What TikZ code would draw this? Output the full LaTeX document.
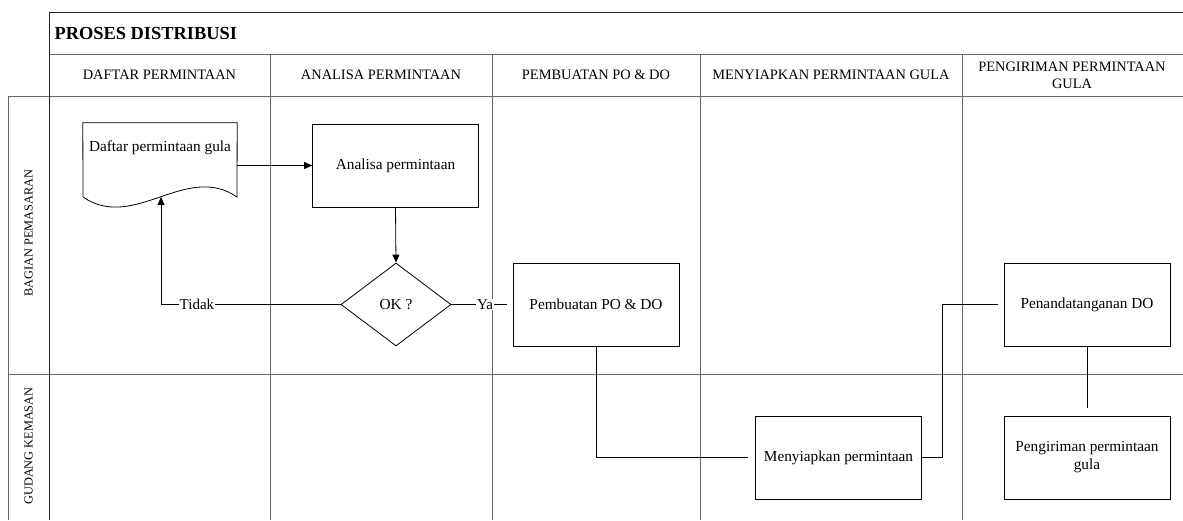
\documentclass[tikz,border=0pt]{standalone}
\usepackage{fontspec}
\setmainfont{Liberation Serif}
\usetikzlibrary{shapes.geometric,arrows.meta}
\tikzset{
  grid/.style={draw=black!60,line width=1pt},
  frame/.style={draw=black!85,line width=1pt},
  procbox/.style={draw=black,line width=0.8pt,minimum width=166pt,minimum height=83pt,inner sep=0pt,font=\fontsize{15.3}{18}\selectfont,align=center},
  decision/.style={diamond,draw=black,line width=0.8pt,minimum width=110pt,minimum height=83pt,inner sep=0pt,font=\fontsize{15.3}{18}\selectfont},
  colhead/.style={font=\fontsize{14.4}{17}\selectfont,align=center},
  lanehead/.style={font=\fontsize{12.3}{14}\selectfont,rotate=90},
  conn/.style={draw=black,line width=0.8pt},
  arr/.style={conn,-{Triangle[length=8pt,width=7pt]}},
  lbl/.style={fill=white,inner sep=1pt,font=\fontsize{15}{18}\selectfont},
}
\begin{document}
\begin{tikzpicture}[x=1pt,y=-1pt]
\useasboundingbox (0,0) rectangle (1183,520);
% grid
\draw[grid] (49,54) -- (1183,54);
\draw[grid] (8,96) -- (1183,96);
\draw[grid] (8,374) -- (1183,374);
\draw[grid] (8,96) -- (8,520);
\foreach \x in {270,492,700,962} \draw[grid] (\x,54) -- (\x,520);
\draw[frame] (49,520) -- (49,12) -- (1183,12);
% titles
\node[anchor=west,font=\bfseries\fontsize{18.4}{22}\selectfont] (title) at (51,33) {PROSES DISTRIBUSI};
\node[colhead] (h1) at (159.5,75) {DAFTAR PERMINTAAN};
\node[colhead] (h2) at (381,75) {ANALISA PERMINTAAN};
\node[colhead] (h3) at (596,75) {PEMBUATAN PO \& DO};
\node[colhead] (h4) at (831,75) {MENYIAPKAN PERMINTAAN GULA};
\node[colhead] (h5) at (1072,75) {PENGIRIMAN PERMINTAAN\\GULA};
\node[lanehead] (l1) at (28.5,233) {BAGIAN PEMASARAN};
\node[lanehead] (l2) at (28.5,446) {GUDANG KEMASAN};
% document shape
\node[minimum width=154pt,minimum height=50pt,inner sep=0pt,font=\fontsize{15.3}{18}\selectfont] (doc) at (160,148) {Daftar permintaan gula};
\draw[conn] (doc.north west) -- (doc.north east) -- (237,197)
  .. controls (186,162) and (134,232) .. (83,197) -- cycle;
\coordinate (docin) at (161,197);
% process nodes
\node[procbox] (ana) at (395.5,165.5) {Analisa permintaan};
\node[decision] (ok) at (396,304.5) {OK ?};
\node[procbox] (pem) at (596,304.5) {Pembuatan PO \& DO};
\node[procbox] (meny) at (838.5,457.5) {Menyiapkan permintaan};
\node[procbox] (pen) at (1087,304.5) {Penandatanganan DO};
\node[procbox] (peng) at (1087,457.5) {Pengiriman permintaan\\gula};
% connectors
\draw[arr] (ana.west -| doc.east) -- (ana.west);
\draw[arr] (ana.south) -- (ok.north);
\draw[arr] (ok.west) -| node[lbl,pos=0.4] {Tidak} (docin);
\draw[conn,shorten >=6pt] (ok.east) -- node[lbl,pos=0.55] {Ya} (pem.west);
\draw[conn,shorten >=7pt] (pem.south) |- (meny.west);
\draw[conn,shorten >=6pt] (meny.east) -- ++(20,0) |- (pen.west);
\draw[conn,shorten >=8pt] (pen.south) -- (peng.north);
\end{tikzpicture}
\end{document}
